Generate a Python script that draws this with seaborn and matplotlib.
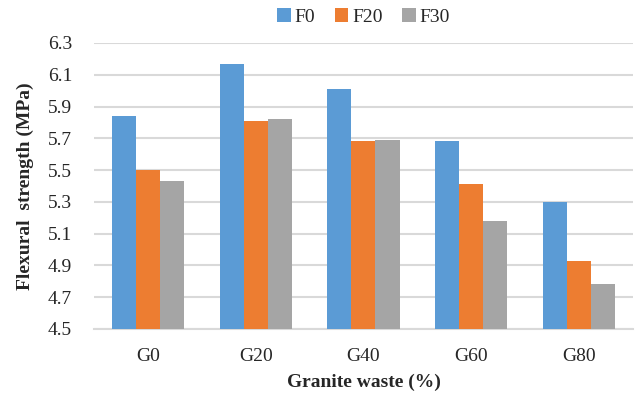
import numpy as np
import pandas as pd
import matplotlib.pyplot as plt
import seaborn as sns

categories = ['G0', 'G20', 'G40', 'G60', 'G80']
series = ['F0', 'F20', 'F30']
f0 = [5.84, 6.17, 6.01, 5.68, 5.30]
f20 = [5.50, 5.81, 5.68, 5.41, 4.93]
f30 = [5.43, 5.82, 5.69, 5.18, 4.78]
colors = ['#5B9BD5', '#ED7D31', '#A5A5A5']
yticks = [4.5, 4.7, 4.9, 5.1, 5.3, 5.5, 5.7, 5.9, 6.1, 6.3]

df = pd.DataFrame({
    'group': categories * 3,
    'series': [s for s in series for _ in categories],
    'value': f0 + f20 + f30,
})

sns.set_style('white')
plt.rcParams['font.family'] = ['Liberation Serif', 'DejaVu Serif']

fig = plt.figure(figsize=(6.41, 3.94), dpi=100)
ax = fig.add_axes([0.147, 0.165, 0.840, 0.726])

sns.barplot(data=df, x='group', y='value', hue='series', palette=colors,
            width=0.67, saturation=1, linewidth=0, ax=ax, zorder=3)

ax.set_ylim(4.5, 6.3)
ax.set_yticks(yticks)
ax.set_yticklabels([f'{t:.1f}' for t in yticks], fontsize=14)
ax.tick_params(axis='x', labelsize=14, length=0, pad=14)
ax.tick_params(axis='y', length=0, pad=16)
ax.grid(axis='y', color='#d9d9d9', linewidth=1.5, zorder=0)
ax.set_axisbelow(True)
for s in ['top', 'right', 'left']:
    ax.spines[s].set_visible(False)
ax.spines['bottom'].set_color('#d9d9d9')
ax.spines['bottom'].set_linewidth(1.5)

ax.set_xlabel('Granite waste (%)', fontsize=14, fontweight='bold', labelpad=6)
ax.set_ylabel('Flexural  strength (MPa)', fontsize=14, fontweight='bold', labelpad=10)

ax.legend(loc='lower center', bbox_to_anchor=(0.5, 1.02), ncol=3, frameon=False,
          fontsize=14, handlelength=0.7, handleheight=0.7, handletextpad=0.2,
          columnspacing=1.0, borderaxespad=0.2)

plt.savefig('out.png', dpi=100)
